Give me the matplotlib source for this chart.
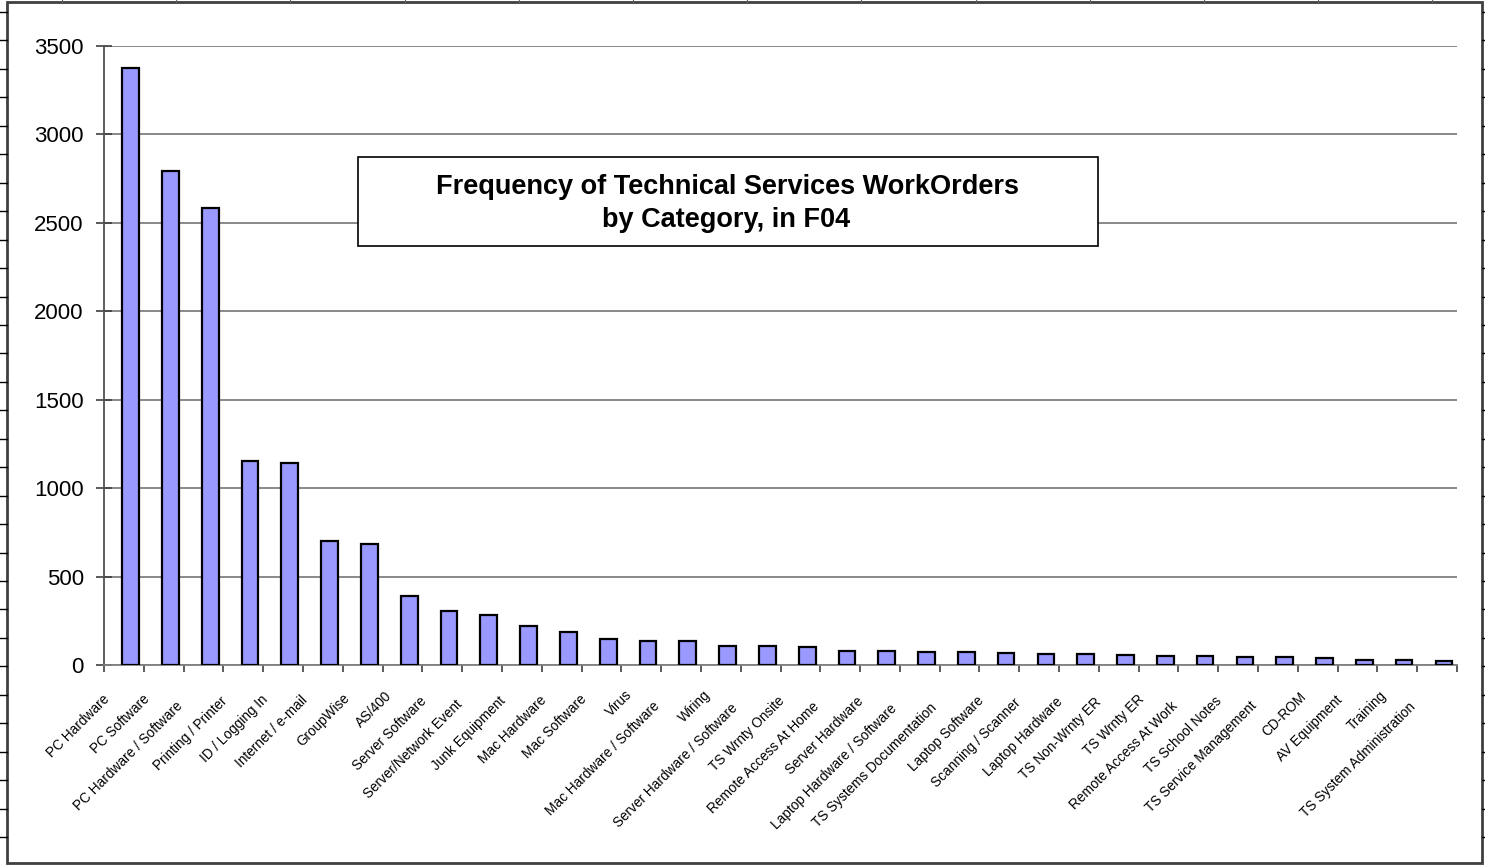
import matplotlib
matplotlib.use("Agg")
import matplotlib.pyplot as plt
from matplotlib.patches import Rectangle
from matplotlib.lines import Line2D
import matplotlib.transforms as mtransforms

plt.rcParams["font.family"] = ["Liberation Sans", "DejaVu Sans"]

# ---- data ----
categories = [
    "PC Hardware", "PC Software", "PC Hardware / Software", "Printing / Printer",
    "ID / Logging In", "Internet / e-mail", "GroupWise", "AS/400",
    "Server Software", "Server/Network Event", "Junk Equipment", "Mac Hardware",
    "Mac Software", "Virus", "Mac Hardware / Software", "Wiring",
    "Server Hardware / Software", "TS Wrnty Onsite", "Remote Access At Home",
    "Server Hardware", "Laptop Hardware / Software", "TS Systems Documentation",
    "Laptop Software", "Scanning / Scanner", "Laptop Hardware", "TS Non-Wrnty ER",
    "TS Wrnty ER", "Remote Access At Work", "TS School Notes",
    "TS Service Management", "CD-ROM", "AV Equipment", "Training",
    "TS System Administration",
]
counts = [
    3375, 2795, 2585, 1155, 1142, 702, 682, 390,
    308, 283, 220, 185, 145, 138, 133, 108,
    105, 102, 78, 77, 76, 73, 68, 64, 60, 58,
    53, 51, 47, 43, 42, 28, 28, 22,
]
yticks = [0, 500, 1000, 1500, 2000, 2500, 3000, 3500]
title_lines = ["Frequency of Technical Services WorkOrders", "by Category, in F04"]

W, H = 1485, 866
fig = plt.figure(figsize=(W / 100, H / 100), dpi=100)
fig.patch.set_facecolor("white")

ax = fig.add_axes([104 / W, 1 - 665 / H, (1457 - 104) / W, (665 - 46) / H])
n = len(categories)
xpos = [i + 0.17 for i in range(n)]
ax.bar(xpos, counts, width=0.42, color="#9999FF", edgecolor="black",
       linewidth=1.6, zorder=3)

ax.set_xlim(-0.5, n - 0.5)
ax.set_ylim(0, 3500)
ax.set_yticks(yticks)
ax.set_yticklabels([str(v) for v in yticks], fontsize=16)
ax.yaxis.grid(True, color="#808080", linewidth=1.3, zorder=0)
ax.set_axisbelow(True)
ax.tick_params(axis="y", direction="inout", length=11, width=1.2,
               color="#404040", pad=9)

# category boundary ticks on the x axis
ax.set_xticks([i - 0.5 for i in range(n + 1)])
ax.set_xticklabels([])
ax.tick_params(axis="x", direction="out", length=5, width=1.2, color="#404040")

for s in ["top", "right"]:
    ax.spines[s].set_visible(False)
ax.spines["left"].set_color("#505050")
ax.spines["bottom"].set_color("#808080")
ax.spines["left"].set_linewidth(1.3)
ax.spines["bottom"].set_linewidth(1.3)

# rotated category labels; longer labels sit a little further down-left
renderer = fig.canvas.get_renderer()
base = mtransforms.blended_transform_factory(ax.transData, ax.transAxes)
for i, lab in enumerate(categories):
    t = ax.text(0, 0, lab, fontsize=9.8)
    L = t.get_window_extent(renderer).width
    t.remove()
    extra = max(L - 30, 0) * 0.1
    dx = -23 - extra
    dy = -22 - extra
    off = mtransforms.ScaledTranslation(dx / 100, dy / 100, fig.dpi_scale_trans)
    ax.text(xpos[i], 0, lab, transform=base + off, rotation=45,
            rotation_mode="anchor", ha="right", va="top", fontsize=9.8)

# title box
fig.patches.append(Rectangle((358 / W, 1 - 246 / H), (1098 - 358) / W, (246 - 157) / H,
                             transform=fig.transFigure, facecolor="white",
                             edgecolor="black", linewidth=1.2, zorder=5))
fig.text(728 / W, 1 - 187 / H, title_lines[0], ha="center", va="center",
         fontsize=19.5, fontweight="bold", zorder=6)
fig.text(726 / W, 1 - 220 / H, title_lines[1], ha="center", va="center",
         fontsize=19.5, fontweight="bold", zorder=6)

# outer frame with the spreadsheet row/column ticks
fig.patches.append(Rectangle((7 / W, 1 - 863 / H), (1482 - 7) / W, (863 - 2) / H,
                             transform=fig.transFigure, facecolor="none",
                             edgecolor="#404040", linewidth=2, zorder=1))
k = 0
while 12 + k * 28.45 < 860:
    yy = 1 - (12 + k * 28.45) / H
    fig.lines.append(Line2D([0, 7 / W], [yy, yy], transform=fig.transFigure,
                            color="black", linewidth=1))
    fig.lines.append(Line2D([1482 / W, 1], [yy, yy], transform=fig.transFigure,
                            color="black", linewidth=1))
    k += 1
k = 0
while 62 + k * 114.2 < 1480:
    xx = (62 + k * 114.2) / W
    fig.lines.append(Line2D([xx, xx], [1, 1 - 3 / H], transform=fig.transFigure,
                            color="#606060", linewidth=0.8))
    k += 1

fig.savefig("out.png", dpi=100, facecolor="white")
